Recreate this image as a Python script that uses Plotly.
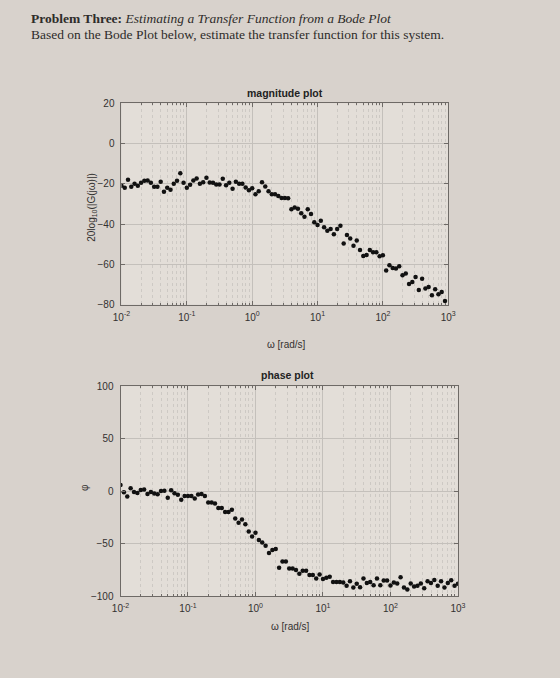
import numpy as np
import plotly.graph_objects as go

# frequencies: 20 points per decade, 1e-2 .. 1e3
omega = np.logspace(-2, 3, 101)

mag_db = [-21, -22, -18, -21.5, -20, -21, -19.5, -18.5, -18.3, -19.5,
          -21.5, -21.5, -19, -24, -22, -23, -20, -18.5, -14.7, -19.5,
          -22, -20.5, -18.3, -17.4, -20, -19.2, -17, -19.3, -19.5, -20.3,
          -20.3, -17.5, -20.7, -19.5, -22.5, -19, -20, -20, -21.8, -23.2,
          -22.2, -25.2, -23.7, -19.2, -21.3, -23.7, -25.2, -25.2, -26, -27,
          -27, -27.2, -32.7, -31.8, -32.4, -34.6, -36.4, -32.6, -35, -39.1,
          -40.5, -38.3, -41.6, -43.3, -42.4, -45, -42.4, -40.8, -49.7, -45.4,
          -47.2, -50.8, -48.2, -52.9, -55.8, -55.3, -52.9, -54, -54, -56,
          -55.5, -63, -60.5, -61.8, -62.1, -61, -65.4, -64.6, -69.8, -68.8,
          -66.3, -72.7, -67.2, -72, -71.2, -75.3, -72.4, -74.8, -73.7, -78.2,
          -83]

phase_deg = [5.9, -0.9, -5, 2.8, -0.6, -1.6, 1.2, 1.6, -2.5, -0.6,
             -2.2, -2.8, 0.3, 0.6, -6.2, 0.9, -1.9, -3.4, -8.1, -4.4,
             -4.4, -4.4, -6.9, -3.1, -2.5, -4.4, -10.6, -10.6, -11.6, -15.9,
             -15.9, -19.7, -19.7, -17.5, -25.9, -30, -26.9, -31.3, -38.4, -43,
             -39.4, -46.3, -48.8, -51.9, -58.8, -55.9, -55, -72.8, -66.9, -66.9,
             -73.4, -73.4, -75, -78.4, -75.6, -75.6, -79.7, -79.7, -83.1, -79.1,
             -83.4, -82.2, -81.3, -86.3, -86.3, -86.3, -86.9, -90, -85.6, -91.6,
             -88.1, -91.3, -83.1, -87.2, -86.3, -89.4, -83.1, -89.4, -85, -85,
             -89.7, -86.9, -87.8, -81.9, -91.6, -93.4, -87.8, -90.6, -90, -87.8,
             -92.2, -85.6, -87.2, -84.4, -90, -85.6, -91.6, -87.2, -84.7, -90,
             -88.1]

x_tickvals = [1e-2, 1e-1, 1e0, 1e1, 1e2, 1e3]
x_ticktext = ["10<sup>-2</sup>", "10<sup>-1</sup>", "10<sup>0</sup>",
              "10<sup>1</sup>", "10<sup>2</sup>", "10<sup>3</sup>"]
mag_ticks = [20, 0, -20, -40, -60, -80]
phase_ticks = [100, 50, 0, -50, -100]

minor_vals = [m * 10.0 ** k for k in range(-2, 3) for m in range(2, 10)]

W, H = 560, 678
PAPER = "#d8d2cc"
PLOT = "#e3ded8"
AX = "#6e6a66"
TXT = "#333130"
GRID = "#c4c0bb"

fig = go.Figure()
fig.add_trace(go.Scatter(x=omega, y=mag_db, mode="markers", xaxis="x", yaxis="y",
                         marker=dict(color="#111", size=4.5), showlegend=False))
fig.add_trace(go.Scatter(x=omega, y=phase_deg, mode="markers", xaxis="x2", yaxis="y2",
                         marker=dict(color="#111", size=4.5), showlegend=False))

def xaxis(domain, anchor):
    return dict(type="log", range=[-2, 3], domain=domain, anchor=anchor,
                tickvals=x_tickvals, ticktext=x_ticktext, ticks="inside", ticklen=4,
                tickcolor=AX, showline=True, linecolor=AX, linewidth=1, mirror="ticks",
                showgrid=True, gridcolor=GRID, gridwidth=1, zeroline=False,
                ticklabelstandoff=3,
                tickfont=dict(family="Liberation Sans, Arial", size=10, color=TXT),
                minor=dict(tickvals=minor_vals, ticks="inside", ticklen=2, tickcolor=AX,
                           showgrid=True, gridcolor="#cdc9c4", griddash="dot", gridwidth=1))

def yaxis(domain, anchor, rng, ticks):
    return dict(range=rng, domain=domain, anchor=anchor, tickvals=ticks,
                ticks="inside", ticklen=4, tickcolor=AX, showline=True, linecolor=AX,
                linewidth=1, mirror="ticks", showgrid=True, gridcolor=GRID, zeroline=False,
                ticklabelstandoff=4,
                tickfont=dict(family="Liberation Sans, Arial", size=10, color=TXT))

fig.update_layout(
    width=W, height=H, margin=dict(l=0, r=0, t=0, b=0),
    paper_bgcolor=PAPER, plot_bgcolor=PLOT,
    xaxis=xaxis([116 / W, 453 / W], "y"),
    yaxis=yaxis([1 - 304 / H, 1 - 99 / H], "x", [-80, 20], mag_ticks),
    xaxis2=xaxis([115 / W, 463 / W], "y2"),
    yaxis2=yaxis([1 - 601 / H, 1 - 387 / H], "x2", [-100, 100], phase_ticks),
)

def ann(text, x, y, size=10, bold=False, angle=0, family="Liberation Sans, Arial",
        xanchor="center", color=TXT):
    fig.add_annotation(text=f"<b>{text}</b>" if bold else text, x=x / W, y=1 - y / H,
                       xref="paper", yref="paper", showarrow=False, textangle=angle,
                       xanchor=xanchor, yanchor="middle",
                       font=dict(family=family, size=size, color=color))

serif = "Liberation Serif, DejaVu Serif, serif"
ann("<b>Problem Three:</b> <i>Estimating a Transfer Function from a Bode Plot</i>",
    21, 13, size=13.5, family=serif, xanchor="left", color="#2e2c2a")
ann("Based on the Bode Plot below, estimate the transfer function for this system.",
    21, 29, size=13.5, family=serif, xanchor="left", color="#2e2c2a")

ann("magnitude plot", 285, 89, size=10.5, bold=True, color="#222")
ann("phase plot", 287, 376, size=10.5, bold=True, color="#222")
ann("20log<sub>10</sub>(|G(jω)|)", 86, 205, size=10, angle=-90)
ann("ω [rad/s]", 286, 345, size=10)
ann("ω [rad/s]", 290, 632, size=10)
ann("φ", 78, 490, size=10, angle=-90)

fig.write_html("out.html")
